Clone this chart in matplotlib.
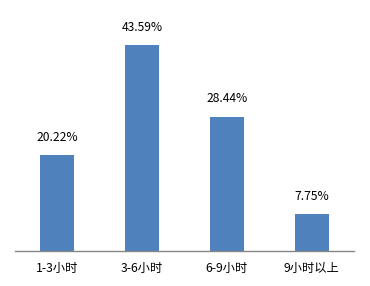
import matplotlib
matplotlib.use('Agg')
import matplotlib.pyplot as plt

categories = ['1-3小时', '3-6小时', '6-9小时', '9小时以上']
values = [20.22, 43.59, 28.44, 7.75]
labels = ['20.22%', '43.59%', '28.44%', '7.75%']

plt.rcParams['font.family'] = ['Noto Sans CJK SC', 'DejaVu Sans']

fig = plt.figure(figsize=(3.7, 2.86), dpi=100)
ax = fig.add_axes([15/370, 35/286, 339/370, 236.3/286])

x = range(len(categories))
bars = ax.bar(x, values, width=0.4, color='#4F81BD')
ax.set_xlim(-0.5, len(categories) - 0.5)
ax.set_ylim(0, 50)

for b, lab in zip(bars, labels):
    ax.text(b.get_x() + b.get_width() / 2, b.get_height() + 2.4, lab,
            ha='center', va='bottom', fontsize=8.7, color='black')

ax.set_xticks(list(x))
ax.set_xticklabels(categories, fontsize=8.8)
ax.tick_params(axis='x', length=0, pad=8)
ax.set_yticks([])
for s in ['top', 'right', 'left']:
    ax.spines[s].set_visible(False)
ax.spines['bottom'].set_color('#868686')
ax.spines['bottom'].set_linewidth(1)

fig.savefig('out.png', dpi=100)
